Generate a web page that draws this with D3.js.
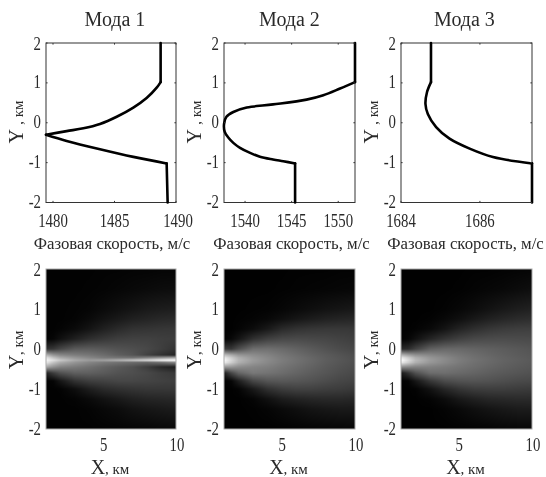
<!DOCTYPE html>
<html><head><meta charset="utf-8">
<script src="https://cdn.jsdelivr.net/npm/d3@7"></script>
<style>html,body{margin:0;padding:0;background:#fff}svg{display:block;filter:blur(.45px)}text{font-family:"Liberation Serif",serif;fill:#2a2a2a}</style>
</head><body><svg id="c" width="546" height="477"></svg>
<script>
const titles = ["Мода 1","Мода 2","Мода 3"];
const speedLabel = "Фазовая скорость, м/с";
const speedDomains = [[1479.43,1490],[1537.74,1551.8],[1684,1687.32]];
const speedTicks = [[1480,1485,1490],[1540,1545,1550],[1684,1686]];
const yTicks = [2,1,0,-1,-2];
const xTicks = [5,10];

const mode1Y = [2,1.02,.88,.62,.38,.15,-.03,-.14,-.21,-.3,-.455,-.664,-.856,-1.02,-2];
const mode1V = [1488.75,1488.75,1488.43,1487.61,1486.53,1485.18,1483.82,1482.47,1481.11,1479.43,1481.11,1483.82,1486.53,1489.24,1489.32];
const mode2Y = [2,1.02,.86,.69,.58,.46,.38,.27,.15,-.02,-.23,-.37,-.505,-.63,-.756,-.85,-.92,-.965,-1.02,-2];
const mode2V = [1551.8,1551.8,1550.2,1548.4,1546.6,1543,1540.18,1538.74,1538,1537.75,1537.82,1538.2,1538.74,1539.46,1540.54,1541.6,1543,1544.1,1545.37,1545.37];
const mode3Y = [2,1.02,.77,.47,.22,-.11,-.4,-.65,-.86,-1.02,-2];
const mode3V = [1684.76,1684.76,1684.66,1684.62,1684.68,1684.89,1685.23,1685.74,1686.33,1687.32,1687.32];
const kinks = [[1.02,-.3,-1.02],[1.02,-1.02],[1.02,-1.02]];

const gridX = [1,1.5,2,3,4,5,6,7,8,9,10];
const gridY = [2,1.5,1,.75,.5,.25,0,-.15,-.22,-.28,-.34,-.45,-.6,-.8,-1,-1.25,-1.5,-2];
const field1 = [
[2,2,2,2,2,3,3,4,4,5,5],
[2,2,2,2,3,4,6,8,10,12,13],
[2,2,2,3,5,10,15,20,25,28,30],
[2,2,2,4,10,18,25,32,36,40,42],
[2,2,4,10,20,32,42,50,52,54,55],
[2,6,16,32,46,55,62,65,65,62,60],
[50,55,70,90,92,88,82,78,72,62,50],
[180,150,135,125,118,108,95,85,65,48,35],
[230,195,170,150,135,122,118,115,130,150,170],
[245,225,200,170,155,160,175,195,215,240,255],
[230,195,170,148,132,120,112,105,100,110,130],
[165,145,130,122,112,100,90,80,62,40,28],
[35,60,80,95,95,90,82,78,72,62,55],
[2,5,22,50,62,66,70,70,68,65,62],
[2,2,3,14,30,42,48,52,55,55,55],
[2,2,2,4,10,18,25,32,36,38,40],
[2,2,2,2,4,8,12,18,22,25,28],
[2,2,2,2,2,3,4,5,6,8,9]];
const field2 = [
[1,1,1,1,1,1,2,2,2,3,3],
[1,1,1,1,1,2,3,4,5,6,7],
[1,1,1,2,3,6,10,14,18,21,24],
[1,1,2,4,8,15,22,28,33,36,38],
[1,1,4,12,25,42,50,54,56,56,55],
[2,8,20,48,64,72,74,72,70,66,62],
[60,55,78,110,112,106,98,90,82,75,70],
[190,170,150,140,130,118,108,98,90,83,76],
[235,205,175,150,136,122,112,102,92,85,78],
[250,215,182,155,138,124,113,103,93,86,79],
[235,205,175,150,136,122,112,102,92,85,78],
[150,150,140,132,126,116,107,98,89,82,76],
[30,70,100,120,115,108,100,92,85,78,72],
[1,6,30,70,85,88,86,82,76,70,66],
[1,1,4,25,48,60,65,65,62,60,56],
[1,1,1,5,16,28,34,38,40,40,38],
[1,1,1,2,5,10,15,20,23,25,25],
[1,1,1,1,1,2,3,4,5,6,7]];
const field3 = [
[1,1,1,1,1,1,2,2,3,4,5],
[1,1,1,1,1,2,4,6,8,11,14],
[1,1,1,1,3,7,12,18,24,29,33],
[1,1,1,3,8,15,24,32,38,43,46],
[1,1,3,9,20,35,46,54,59,62,63],
[1,5,16,36,52,64,72,75,76,75,74],
[40,45,65,96,104,104,100,96,92,88,84],
[180,160,145,135,126,117,109,102,96,91,87],
[235,205,175,150,136,122,112,105,98,93,88],
[255,220,185,155,138,124,114,106,99,94,89],
[235,205,175,150,136,122,112,105,98,93,88],
[140,135,130,128,122,115,108,101,95,90,86],
[25,50,80,108,110,105,100,94,89,85,81],
[1,4,22,55,75,82,84,82,78,74,72],
[1,1,3,18,38,52,60,62,62,60,58],
[1,1,1,4,12,24,32,38,40,42,42],
[1,1,1,1,4,9,15,20,24,27,28],
[1,1,1,1,1,2,3,4,6,7,8]];

const curves = [[mode1Y,mode1V],[mode2Y,mode2V],[mode3Y,mode3V]];
const fields = [field1,field2,field3];
const lefts = [46,224,401], widths = [130,131,131];
const topBox = [43,202.5], botBox = [269,429];
const svg = d3.select("#c");
const ink = "#333";

function tickText(g,px,py,str,anchor){
  g.append("text").attr("transform",`translate(${px},${py}) scale(.8,1)`)
   .attr("text-anchor",anchor).attr("font-size",18.5).text(str);
}
function yLabels(g,y,L){
  yTicks.forEach(t=>tickText(g,L-5,y(t)+(t===2?7:5.5),t,"end"));
}
function axisName(g,attrs,big,small){
  const t=g.append("text").attr("text-anchor","middle");
  Object.entries(attrs).forEach(([k,v])=>t.attr(k,v));
  t.append("tspan").attr("font-size",20).text(big);
  t.append("tspan").attr("font-size",15).text(small);
}
titles.forEach((title,i)=>{
  const L=lefts[i],W=widths[i],g=svg.append("g");
  const x=d3.scaleLinear().domain(speedDomains[i]).range([L,L+W]);
  const y=d3.scaleLinear().domain([2,-2]).range(topBox);
  g.append("text").attr("x",L+W/2+(i===0?4:i===1?0:-2)).attr("y",26).attr("text-anchor","middle").attr("font-size",20).text(title);
  g.append("rect").attr("x",L).attr("y",topBox[0]).attr("width",W).attr("height",topBox[1]-topBox[0]).attr("fill","#fff").attr("stroke",ink).attr("stroke-width",1);
  const [ys,vs]=curves[i];
  const pts=ys.map((v,k)=>[v,vs[k]]);
  const line=d3.line().x(d=>x(d[1])).y(d=>y(d[0])).curve(d3.curveCatmullRom.alpha(.5));
  const breaks=[2,...kinks[i],-2];
  d3.pairs(breaks).forEach(([a,b])=>{
    g.append("path").attr("d",line(pts.filter(p=>p[0]<=a&&p[0]>=b)))
     .attr("fill","none").attr("stroke","#000").attr("stroke-width",2.6).attr("stroke-linecap","round");
  });
  speedTicks[i].forEach(t=>{
    g.append("line").attr("x1",x(t)).attr("x2",x(t)).attr("y1",topBox[1]).attr("y2",topBox[1]-1.6).attr("stroke",ink);
    g.append("line").attr("x1",x(t)).attr("x2",x(t)).attr("y1",topBox[0]).attr("y2",topBox[0]+1.6).attr("stroke",ink);
    tickText(g,x(t)+(t===1490?2:0),227,t,"middle");
  });
  yTicks.forEach(t=>{
    g.append("line").attr("x1",L).attr("x2",L+1.6).attr("y1",y(t)).attr("y2",y(t)).attr("stroke",ink);
    g.append("line").attr("x1",L+W).attr("x2",L+W-1.6).attr("y1",y(t)).attr("y2",y(t)).attr("stroke",ink);
  });
  yLabels(g,y,L);
  g.append("text").attr("x",L+W/2+(i===0?1:i===1?2:-1)).attr("y",249).attr("text-anchor","middle").attr("font-size",16.8).text(speedLabel);
  axisName(g,{transform:`translate(${L-23},122) rotate(-90)`},"Y ",", км");

  const h=svg.append("g");
  const hx=d3.scaleLinear().domain([1,10]).range([L,L+W]);
  const hy=d3.scaleLinear().domain([2,-2]).range(botBox);
  const gray=d3.scaleLinear().domain([0,255]).range([0,255]).clamp(true);
  const cw=W, ch=botBox[1]-botBox[0];
  const cv=document.createElement("canvas");cv.width=cw;cv.height=ch;
  const ctx=cv.getContext("2d"),img=ctx.createImageData(cw,ch),F=fields[i];
  const bis=(arr,v,desc)=>{let k=0;while(k<arr.length-2&&(desc?arr[k+1]>=v:arr[k+1]<=v))k++;return k;};
  for(let py=0;py<ch;py++){
    const yv=hy.invert(botBox[0]+py+.5),r=bis(gridY,yv,true),tr=(gridY[r]-yv)/(gridY[r]-gridY[r+1]);
    for(let px=0;px<cw;px++){
      const xv=hx.invert(L+px+.5),c=bis(gridX,xv,false),tc=(xv-gridX[c])/(gridX[c+1]-gridX[c]);
      const a=d3.interpolateNumber(F[r][c],F[r][c+1])(tc),b=d3.interpolateNumber(F[r+1][c],F[r+1][c+1])(tc);
      const val=Math.round(gray(d3.interpolateNumber(a,b)(tr))),o=(py*cw+px)*4;
      img.data[o]=img.data[o+1]=img.data[o+2]=val;img.data[o+3]=255;
    }
  }
  ctx.putImageData(img,0,0);
  h.append("image").attr("x",L).attr("y",botBox[0]).attr("width",cw).attr("height",ch).attr("href",cv.toDataURL());
  h.append("rect").attr("x",L).attr("y",botBox[0]).attr("width",W).attr("height",ch).attr("fill","none").attr("stroke","#aaa").attr("stroke-width",1);
  yLabels(h,hy,L);
  xTicks.forEach(t=>tickText(h,hx(t)+(t===10?1:0),451,t,"middle"));
  axisName(h,{x:L+W/2-1,y:474},"X",", км");
  axisName(h,{transform:`translate(${L-23},350) rotate(-90)`},"Y",", км");
});
</script></body></html>
